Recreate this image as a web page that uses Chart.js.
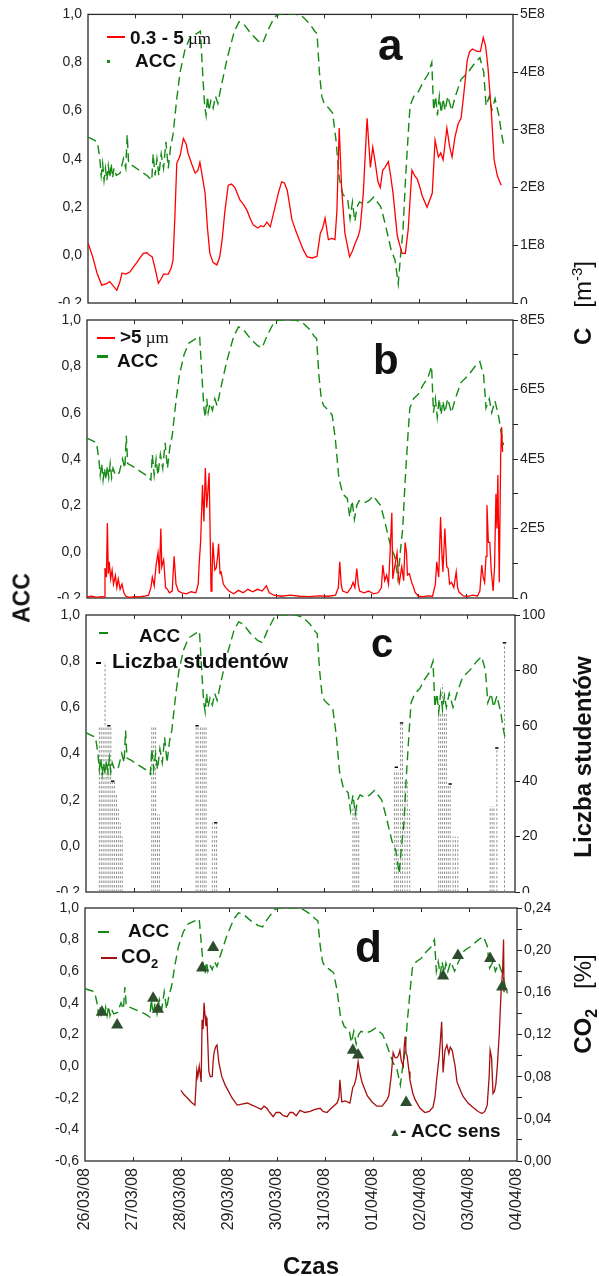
<!DOCTYPE html>
<html>
<head>
<meta charset="utf-8">
<script src="https://cdn.jsdelivr.net/npm/chart.js@4.4.1/dist/chart.umd.min.js"></script>
<style>
body { margin: 0; background: #fff; }
#page { position: relative; width: 599px; height: 1276px; overflow: hidden; font-family: "Liberation Sans", Arial, sans-serif; color: #111; }
.panel { position: absolute; left: 0; width: 599px; background: #fff; }
.t { position: absolute; white-space: nowrap; line-height: 1; z-index: 5; }
.b { font-weight: bold; }
.rot { transform: translate(-50%, -50%) rotate(-90deg); }
.mk { position: absolute; z-index: 5; }
.um { font-family: "Liberation Serif", serif; font-weight: normal; font-size: 17px; margin-left: 4px; }
</style>
</head>
<body>
<div id="page">
  <div class="panel" style="top:0;height:320px"><canvas id="pa" width="599" height="320"></canvas></div>
  <div class="panel" style="top:304px;height:312px"><canvas id="pb" width="599" height="312"></canvas></div>
  <div class="panel" style="top:599px;height:310px"><canvas id="pc" width="599" height="310"></canvas></div>
  <div class="panel" style="top:893px;height:383px"><canvas id="pd" width="599" height="383"></canvas></div>

  <!-- legends a -->
  <div class="mk" style="left:107px;top:36px;width:18px;height:2px;background:#f00"></div>
  <div class="t b" style="left:130px;top:28px;font-size:19px">0.3 - 5<span class="um">µm</span></div>
  <div class="mk" style="left:107px;top:60px;width:3px;height:3px;background:#138a13"></div>
  <div class="t b" style="left:135px;top:51px;font-size:19px">ACC</div>
  <div class="t b" style="left:378px;top:23px;font-size:44px">a</div>

  <!-- legends b -->
  <div class="mk" style="left:97px;top:337px;width:18px;height:1.5px;background:#f00"></div>
  <div class="t b" style="left:120px;top:327px;font-size:19px">&gt;5<span class="um">µm</span></div>
  <div class="mk" style="left:97px;top:355px;width:11px;height:3px;background:#138a13"></div>
  <div class="t b" style="left:117px;top:351px;font-size:19px">ACC</div>
  <div class="t b" style="left:373px;top:339px;font-size:42px">b</div>

  <!-- legends c -->
  <div class="mk" style="left:99px;top:632px;width:9px;height:2px;background:#138a13"></div>
  <div class="t b" style="left:139px;top:626px;font-size:19px">ACC</div>
  <div class="mk" style="left:96px;top:662px;width:5px;height:1.5px;background:#000"></div>
  <div class="t b" style="left:112px;top:650px;font-size:21px">Liczba studentów</div>
  <div class="t b" style="left:371px;top:623px;font-size:40px">c</div>

  <!-- legends d -->
  <div class="mk" style="left:98px;top:931px;width:11px;height:2px;background:#138a13"></div>
  <div class="t b" style="left:128px;top:921px;font-size:19px">ACC</div>
  <div class="mk" style="left:101px;top:957px;width:16px;height:2px;background:#a50f0f"></div>
  <div class="t b" style="left:121px;top:946px;font-size:20px">CO<span style="font-size:13px;position:relative;top:5px">2</span></div>
  <div class="t b" style="left:355px;top:925px;font-size:44px">d</div>
  <div class="t" style="left:389px;top:1126px;font-size:12px;color:#2e4d2e">▲</div>
  <div class="t b" style="left:400px;top:1121px;font-size:19px">- ACC sens</div>

  <!-- axis titles -->
  <div class="t b rot" style="left:22px;top:598px;font-size:23px">ACC</div>
  <div class="t rot" style="left:583px;top:303px;font-size:24px"><b>C</b>&nbsp;&nbsp; [m<span style="font-size:15px;position:relative;top:-9px">-3</span>]</div>
  <div class="t b rot" style="left:583px;top:757px;font-size:24px">Liczba studentów</div>
  <div class="t rot" style="left:583px;top:1004px;font-size:24px"><b>CO<span style="font-size:16px;position:relative;top:6px">2</span></b>&nbsp;&nbsp; [%]</div>
  <div class="t b" style="left:311px;top:1266px;font-size:24px;transform:translate(-50%,-50%)">Czas</div>
</div>

<script>
const days = ['26/03/08', '27/03/08', '28/03/08', '29/03/08', '30/03/08', '31/03/08', '01/04/08', '02/04/08', '03/04/08', '04/04/08'];

// ACC, same series in all panels (time in days from 26/03/08 00:00)
const accT = [0.00, 0.10, 0.20, 0.25, 0.28, 0.31, 0.34, 0.37, 0.40, 0.43, 0.46, 0.49, 0.52, 0.55, 0.60, 0.68, 0.75, 0.80, 0.83, 0.86,
  0.95, 1.10, 1.25, 1.35, 1.38, 1.42, 1.46, 1.50, 1.55, 1.60, 1.65, 1.70, 1.75, 1.80, 1.88, 1.95, 2.05, 2.15, 2.30, 2.38,
  2.43, 2.47, 2.50, 2.53, 2.56, 2.60, 2.65, 2.70, 2.75, 2.82, 2.95, 3.10, 3.20, 3.30, 3.45, 3.60, 3.70, 3.80, 3.95, 4.05,
  4.40, 4.55, 4.70, 4.80, 4.85, 4.90, 4.95, 5.00, 5.10, 5.18, 5.25, 5.32, 5.40, 5.50, 5.55, 5.60, 5.65, 5.70, 5.75, 5.85,
  5.95, 6.05, 6.20, 6.28, 6.35, 6.42, 6.50, 6.57, 6.62, 6.67, 6.72, 6.78, 6.82, 6.90, 7.00, 7.10, 7.20, 7.28, 7.32, 7.36,
  7.40, 7.44, 7.48, 7.52, 7.56, 7.62, 7.70, 7.78, 7.90, 8.05, 8.20, 8.30, 8.38, 8.43, 8.50, 8.55, 8.62, 8.70, 8.76, 8.80];
const accV = [0.49, 0.48, 0.47, 0.40, 0.33, 0.38, 0.31, 0.36, 0.31, 0.37, 0.32, 0.38, 0.32, 0.36, 0.33, 0.34, 0.40, 0.36, 0.50, 0.38,
  0.37, 0.35, 0.33, 0.31, 0.42, 0.33, 0.40, 0.33, 0.42, 0.36, 0.47, 0.36, 0.45, 0.50, 0.65, 0.76, 0.85, 0.90, 0.92, 0.93,
  0.75, 0.62, 0.58, 0.66, 0.60, 0.64, 0.61, 0.66, 0.63, 0.70, 0.82, 0.93, 0.97, 0.96, 0.92, 0.89, 0.88, 0.93, 0.99, 1.00,
  1.00, 0.99, 0.96, 0.93, 0.92, 0.76, 0.66, 0.63, 0.61, 0.59, 0.48, 0.32, 0.25, 0.23, 0.15, 0.22, 0.14, 0.20, 0.22, 0.21,
  0.22, 0.24, 0.20, 0.14, 0.08, 0.02, -0.02, -0.12, 0.00, 0.10, 0.30, 0.50, 0.62, 0.66, 0.68, 0.72, 0.75, 0.80, 0.60, 0.66,
  0.58, 0.66, 0.59, 0.65, 0.60, 0.66, 0.60, 0.66, 0.73, 0.76, 0.80, 0.82, 0.76, 0.62, 0.66, 0.60, 0.65, 0.58, 0.50, 0.46];

// 0.3 - 5 um particles, x1E8 m-3
const fineT = [0.00, 0.10, 0.19, 0.29, 0.38, 0.46, 0.53, 0.61, 0.67, 0.72, 0.80, 0.89, 0.96, 1.04, 1.10, 1.17, 1.25, 1.30, 1.36, 1.42,
  1.49, 1.55, 1.60, 1.70, 1.76, 1.80, 1.84, 1.88, 1.95, 2.02, 2.08, 2.12, 2.20, 2.27, 2.33, 2.37, 2.42, 2.48, 2.53, 2.58,
  2.65, 2.73, 2.79, 2.84, 2.90, 2.97, 3.04, 3.11, 3.16, 3.22, 3.30, 3.37, 3.44, 3.50, 3.60, 3.66, 3.72, 3.79, 3.86, 3.96,
  4.03, 4.10, 4.16, 4.22, 4.32, 4.40, 4.49, 4.56, 4.64, 4.75, 4.85, 4.92, 4.97, 5.02, 5.09, 5.16, 5.23, 5.27, 5.32, 5.37,
  5.44, 5.54, 5.60, 5.66, 5.72, 5.76, 5.83, 5.91, 5.98, 6.03, 6.08, 6.14, 6.19, 6.24, 6.29, 6.36, 6.41, 6.46, 6.55, 6.65,
  6.72, 6.78, 6.86, 6.92, 6.97, 7.03, 7.08, 7.18, 7.29, 7.35, 7.42, 7.47, 7.52, 7.60, 7.66, 7.71, 7.77, 7.84, 7.90, 7.95,
  8.03, 8.08, 8.14, 8.24, 8.31, 8.37, 8.42, 8.47, 8.54, 8.60, 8.67, 8.75];
const fineC = [1.04, 0.80, 0.52, 0.31, 0.33, 0.37, 0.30, 0.22, 0.35, 0.52, 0.50, 0.54, 0.62, 0.71, 0.78, 0.86, 0.87, 0.83, 0.80, 0.60,
  0.34, 0.42, 0.50, 0.50, 0.60, 0.74, 1.50, 2.42, 2.55, 2.85, 2.75, 2.59, 2.40, 2.25, 2.30, 2.44, 2.20, 1.90, 1.30, 0.86,
  0.70, 0.66, 0.80, 1.09, 1.60, 2.04, 2.06, 2.00, 1.90, 1.78, 1.70, 1.60, 1.45, 1.35, 1.30, 1.34, 1.32, 1.40, 1.32, 1.66,
  1.90, 2.10, 2.08, 1.95, 1.44, 1.25, 1.06, 0.92, 0.80, 0.78, 0.81, 1.21, 1.30, 1.47, 1.10, 1.12, 1.10, 1.58, 3.03, 2.00,
  1.21, 0.80, 0.90, 1.04, 1.15, 1.27, 1.90, 3.20, 2.35, 2.70, 2.45, 2.10, 2.00, 2.30, 2.35, 2.45, 2.20, 1.90, 1.16, 0.86,
  0.86, 1.27, 2.30, 2.20, 2.15, 2.00, 1.85, 1.66, 1.90, 2.82, 2.53, 2.60, 2.48, 3.03, 2.70, 2.53, 2.87, 3.11, 3.20, 3.56,
  4.20, 4.35, 4.40, 4.36, 4.36, 4.60, 4.45, 4.08, 3.33, 2.48, 2.20, 2.04];

// >5 um particles, x1E5 m-3
const coarseT = [0.00, 0.10, 0.20, 0.30, 0.36, 0.38, 0.41, 0.43, 0.45, 0.47, 0.50, 0.53, 0.56, 0.60, 0.63, 0.66, 0.70, 0.74, 0.78, 0.82,
  0.90, 1.00, 1.10, 1.20, 1.30, 1.35, 1.38, 1.42, 1.46, 1.50, 1.53, 1.56, 1.58, 1.62, 1.66, 1.70, 1.74, 1.80, 1.84, 1.88,
  1.93, 2.00, 2.10, 2.20, 2.30, 2.35, 2.37, 2.40, 2.44, 2.47, 2.50, 2.53, 2.55, 2.58, 2.61, 2.62, 2.64, 2.66, 2.70, 2.73,
  2.76, 2.78, 2.81, 2.83, 2.88, 2.93, 3.00, 3.10, 3.20, 3.30, 3.40, 3.50, 3.60, 3.70, 3.79, 3.85, 3.95, 4.10, 4.30, 4.50,
  4.70, 4.90, 5.10, 5.25, 5.31, 5.34, 5.37, 5.40, 5.50, 5.58, 5.62, 5.66, 5.70, 5.73, 5.76, 5.85, 5.95, 6.05, 6.15, 6.22,
  6.25, 6.29, 6.33, 6.37, 6.40, 6.44, 6.46, 6.50, 6.55, 6.58, 6.60, 6.65, 6.69, 6.72, 6.75, 6.77, 6.81, 6.86, 6.90, 6.93,
  7.00, 7.10, 7.20, 7.30, 7.36, 7.39, 7.43, 7.47, 7.50, 7.52, 7.56, 7.60, 7.63, 7.66, 7.70, 7.75, 7.80, 7.83, 7.86, 7.95,
  8.05, 8.15, 8.25, 8.30, 8.34, 8.37, 8.40, 8.43, 8.45, 8.48, 8.51, 8.54, 8.58, 8.61, 8.64, 8.66, 8.68, 8.71, 8.74, 8.76, 8.78];
const coarseC = [0.03, 0.05, 0.02, 0.04, 0.03, 0.86, 0.60, 2.16, 0.70, 1.04, 0.55, 0.80, 0.40, 0.65, 0.30, 0.55, 0.25, 0.40, 0.15, 0.05,
  0.02, 0.04, 0.03, 0.05, 0.08, 0.30, 0.60, 0.35, 0.95, 1.30, 0.70, 2.00, 0.90, 1.10, 0.30, 0.25, 0.15, 0.20, 1.20, 0.40,
  0.20, 0.15, 0.12, 0.18, 0.15, 0.40, 1.00, 1.60, 3.25, 2.20, 3.74, 2.60, 3.00, 3.60, 1.20, 0.20, 0.50, 1.60, 0.80, 0.86,
  1.20, 1.56, 0.70, 0.77, 0.40, 0.30, 0.20, 0.12, 0.22, 0.15, 0.25, 0.18, 0.25, 0.20, 0.35, 0.15, 0.08, 0.05, 0.08, 0.05,
  0.04, 0.06, 0.05, 0.08, 0.30, 1.04, 0.40, 0.20, 0.15, 0.30, 0.45, 0.30, 0.85, 0.40, 0.20, 0.15, 0.20, 0.12, 0.15, 0.30,
  0.95, 0.50, 0.66, 0.40, 1.20, 2.45, 0.55, 0.90, 1.30, 0.60, 0.45, 0.90, 0.50, 1.60, 1.30, 0.66, 0.70, 0.45, 0.30, 0.17,
  0.05, 0.04, 0.06, 0.05, 0.40, 1.04, 0.60, 2.33, 1.20, 0.75, 2.00, 0.90, 0.85, 0.40, 0.45, 0.30, 0.75, 0.30, 0.17, 0.06,
  0.05, 0.08, 0.06, 0.20, 0.95, 0.60, 0.45, 1.20, 2.67, 1.60, 1.60, 0.80, 0.20, 0.90, 3.00, 2.00, 3.54, 0.45, 4.10, 4.92, 4.20];

// Liczba studentów (hourly bars) and marked top values
const studT = [0.28, 0.32, 0.36, 0.40, 0.44, 0.48, 0.52, 0.56, 0.60, 0.64, 0.68, 0.72, 0.76,
  1.38, 1.42, 1.46, 1.50, 1.54,
  2.31, 2.35, 2.40, 2.44, 2.48, 2.52, 2.65, 2.70, 2.74,
  5.60, 5.64, 5.68, 5.72,
  6.47, 6.51, 6.55, 6.60, 6.64, 6.69, 6.74, 6.79,
  7.40, 7.44, 7.48, 7.52, 7.56, 7.60, 7.64, 7.70, 7.75, 7.80,
  8.48, 8.52, 8.56, 8.62, 8.78];
const studN = [60, 60, 60, 83, 60, 60, 60, 40, 40, 35, 30, 25, 20,
  60, 60, 60, 28, 28,
  60, 60, 60, 60, 60, 60, 25, 25, 25,
  31, 31, 31, 25,
  44, 44, 44, 61, 61, 40, 40, 30,
  65, 65, 75, 65, 65, 39, 39, 20, 20, 20,
  31, 31, 31, 52, 90];
const capT = [0.48, 0.56, 2.33, 2.72, 6.51, 6.62, 7.64, 8.62, 8.78];
const capN = [60, 40, 60, 25, 45, 61, 39, 52, 90];

// CO2, %
const co2T = [2.00, 2.06, 2.13, 2.21, 2.29, 2.33, 2.35, 2.38, 2.42, 2.44, 2.46, 2.48, 2.50, 2.52, 2.54, 2.58, 2.61, 2.65, 2.67, 2.69,
  2.72, 2.75, 2.79, 2.85, 2.92, 2.98, 3.06, 3.17, 3.27, 3.38, 3.48, 3.58, 3.67, 3.73, 3.79, 3.85, 3.92, 3.98, 4.06, 4.13,
  4.21, 4.27, 4.33, 4.40, 4.48, 4.58, 4.69, 4.79, 4.90, 4.96, 5.04, 5.13, 5.25, 5.29, 5.31, 5.35, 5.42, 5.52, 5.58, 5.61,
  5.65, 5.69, 5.72, 5.77, 5.88, 5.98, 6.08, 6.19, 6.29, 6.33, 6.38, 6.42, 6.46, 6.50, 6.53, 6.56, 6.59, 6.63, 6.65, 6.67,
  6.69, 6.71, 6.75, 6.77, 6.83, 6.88, 6.98, 7.08, 7.17, 7.25, 7.29, 7.33, 7.38, 7.40, 7.43, 7.46, 7.50, 7.54, 7.58, 7.61,
  7.65, 7.71, 7.75, 7.83, 7.88, 7.98, 8.08, 8.19, 8.27, 8.33, 8.38, 8.42, 8.44, 8.47, 8.50, 8.53, 8.56, 8.59, 8.63, 8.67,
  8.70, 8.72, 8.73];
const co2V = [0.067, 0.063, 0.060, 0.056, 0.053, 0.086, 0.080, 0.090, 0.075, 0.134, 0.125, 0.150, 0.138, 0.128, 0.136, 0.085, 0.080, 0.080, 0.095, 0.103,
  0.108, 0.110, 0.093, 0.080, 0.072, 0.067, 0.060, 0.053, 0.054, 0.055, 0.053, 0.051, 0.049, 0.052, 0.050, 0.046, 0.042, 0.046, 0.046, 0.043,
  0.042, 0.046, 0.046, 0.043, 0.048, 0.046, 0.047, 0.049, 0.050, 0.047, 0.046, 0.050, 0.055, 0.060, 0.077, 0.056, 0.057, 0.055, 0.070, 0.072,
  0.079, 0.094, 0.085, 0.075, 0.062, 0.056, 0.052, 0.052, 0.058, 0.062, 0.081, 0.103, 0.098, 0.098, 0.100, 0.105, 0.095, 0.090, 0.108, 0.118,
  0.102, 0.100, 0.085, 0.077, 0.064, 0.058, 0.050, 0.046, 0.047, 0.051, 0.060, 0.079, 0.100, 0.112, 0.132, 0.084, 0.105, 0.110, 0.102, 0.108,
  0.105, 0.090, 0.075, 0.066, 0.061, 0.055, 0.051, 0.047, 0.045, 0.047, 0.053, 0.080, 0.105, 0.098, 0.064, 0.066, 0.073, 0.090, 0.120, 0.162,
  0.180, 0.210, 0.160];

// ACC sens
const sensT = [0.35, 0.67, 1.42, 1.52, 2.44, 2.67, 5.58, 5.69, 6.69, 7.46, 7.77, 8.44, 8.69];
const sensV = [0.34, 0.26, 0.43, 0.36, 0.62, 0.75, 0.10, 0.07, -0.23, 0.57, 0.70, 0.68, 0.50];

Chart.defaults.font.family = "'Liberation Sans', Arial, sans-serif";
Chart.defaults.color = '#222';

const pts = (xs, ys) => xs.map((x, i) => ({ x: x, y: ys[i] }));
const dec = (v, d) => (Math.abs(v) < 1e-9 ? 0 : v).toFixed(d).replace('.', ',');

// frame round the plot area + small inward day ticks
const frame = {
  id: 'frame',
  beforeDatasetsDraw(chart) {
    const { ctx, chartArea: a, scales } = chart;
    ctx.save();
    ctx.strokeStyle = '#2a2a2a';
    ctx.lineWidth = 1.3;
    ctx.strokeRect(a.left, a.top, a.width, a.height);
    ctx.lineWidth = 1;
    ctx.beginPath();
    for (let d = 1; d < days.length - 1; d++) {
      const px = Math.round(scales.x.getPixelForValue(d)) + 0.5;
      ctx.moveTo(px, a.bottom); ctx.lineTo(px, a.bottom - 4);
      ctx.moveTo(px, a.top); ctx.lineTo(px, a.top + 4);
    }
    ctx.stroke();
    ctx.restore();
  }
};

const accSet = () => ({ data: pts(accT, accV), yAxisID: 'y', borderColor: '#138a13', borderWidth: 1.4, borderDash: [9, 5] });

function panel(id, p) {
  return new Chart(document.getElementById(id), {
    type: 'line',
    data: { datasets: p.datasets },
    options: {
      responsive: false,
      animation: false,
      events: [],
      layout: { padding: { top: p.top, left: 0, right: 0, bottom: 0 } },
      elements: { point: { radius: 0 }, line: { tension: 0 } },
      plugins: { legend: { display: false }, tooltip: { enabled: false } },
      scales: {
        x: {
          type: 'linear', min: 0, max: 9,
          afterFit: s => { s.height = p.xh; },
          grid: { display: false, drawTicks: false },
          border: { display: false },
          ticks: p.dates
            ? { stepSize: 1, autoSkip: false, minRotation: 90, maxRotation: 90, padding: 7, font: { size: 16 }, color: '#222', callback: v => days[v] }
            : { display: false }
        },
        y: {
          position: 'left', min: p.ymin, max: 1,
          afterFit: s => { s.width = p.left; },
          grid: { display: false, drawTicks: false },
          border: { display: false },
          ticks: { stepSize: 0.2, padding: 6, font: { size: 14 }, color: '#222', callback: v => dec(v, 1) }
        },
        y2: {
          position: 'right', min: 0, max: p.rmax,
          afterFit: s => { s.width = 599 - p.right; },
          grid: { drawOnChartArea: false, tickLength: 5, color: '#222' },
          border: { display: false },
          ticks: { stepSize: p.rstep, padding: 2, font: { size: 14 }, color: '#222', callback: p.rlabel }
        }
      }
    },
    plugins: [frame]
  });
}

// a
panel('pa', {
  top: 14, xh: 17, left: 88, right: 513, ymin: -0.2, rmax: 5, rstep: 1,
  rlabel: v => (v === 0 ? '0' : v + 'E8'),
  datasets: [
    { data: pts(fineT, fineC), yAxisID: 'y2', borderColor: '#ff0000', borderWidth: 1.3 },
    accSet()
  ]
});

// b
panel('pb', {
  top: 16, xh: 18, left: 87, right: 513, ymin: -0.2, rmax: 8, rstep: 1,
  rlabel: v => (v % 2 ? '' : (v === 0 ? '0' : v + 'E5')),
  datasets: [
    { data: pts(coarseT, coarseC), yAxisID: 'y2', borderColor: '#ff0000', borderWidth: 1.3 },
    accSet()
  ]
});

// c
const studPts = [];
studT.forEach((t, i) => { studPts.push({ x: t, y: 0 }, { x: t, y: studN[i] }, { x: t, y: null }); });
const capPts = [];
capT.forEach((t, i) => { capPts.push({ x: t - 0.035, y: capN[i] }, { x: t + 0.035, y: capN[i] }, { x: t, y: null }); });

panel('pc', {
  top: 16, xh: 17, left: 86, right: 515, ymin: -0.2, rmax: 100, rstep: 20,
  rlabel: v => v,
  datasets: [
    accSet(),
    { data: studPts, yAxisID: 'y2', borderColor: '#777', borderWidth: 0.8, borderDash: [2.5, 2], spanGaps: false },
    { data: capPts, yAxisID: 'y2', borderColor: '#000', borderWidth: 1.5, spanGaps: false }
  ]
});

// d
panel('pd', {
  top: 15, xh: 115, left: 85, right: 517, ymin: -0.6, rmax: 0.24, rstep: 0.02, dates: true,
  rlabel: v => (Math.round(v * 100) % 4 === 0 ? dec(v, 2) : ''),
  datasets: [
    { data: pts(sensT, sensV), yAxisID: 'y', showLine: false, pointStyle: 'triangle', pointRadius: 7,
      pointBackgroundColor: '#2e4d2e', pointBorderColor: '#2e4d2e', pointBorderWidth: 0 },
    { data: pts(co2T, co2V), yAxisID: 'y2', borderColor: '#a50f0f', borderWidth: 1.3 },
    accSet()
  ]
});
</script>
</body>
</html>
